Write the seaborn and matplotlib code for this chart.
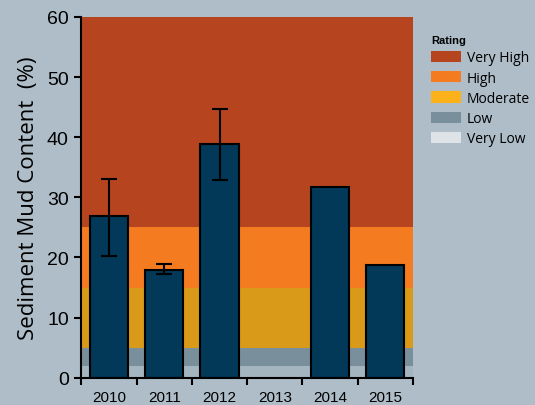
import numpy as np
import pandas as pd
import matplotlib.pyplot as plt
import seaborn as sns
from matplotlib.patches import Patch

# Datos
years = ['2010', '2011', '2012', '2013', '2014', '2015']
mud = [26.9, 18.0, 38.9, np.nan, 31.8, 18.7]
err_low = [20.3, 17.2, 32.9, np.nan, np.nan, np.nan]
err_high = [33.1, 18.9, 44.7, np.nan, np.nan, np.nan]

rating_names = ['Very High', 'High', 'Moderate', 'Low', 'Very Low']
rating_from = [25, 15, 5, 2, 0]
rating_to = [60, 25, 15, 5, 2]
band_colors = ['#b5441f', '#f47b20', '#d89a18', '#7a8f9c', '#a4b5c0']
legend_colors = ['#b5441f', '#f47b20', '#fbb21a', '#7a8f9c', '#dde3e6']

bg = '#aebdc8'
sns.set_style('ticks')
plt.rcParams['font.family'] = ['Liberation Sans', 'DejaVu Sans']
plt.rcParams['text.color'] = 'black'
plt.rcParams['xtick.color'] = 'black'
plt.rcParams['ytick.color'] = 'black'
plt.rcParams['axes.labelcolor'] = 'black'

df = pd.DataFrame({'year': years, 'mud': mud})

fig, ax = plt.subplots(figsize=(5.35, 4.06), dpi=100)
fig.patch.set_facecolor(bg)
ax.set_facecolor(bg)
fig.subplots_adjust(left=0.152, right=0.772, top=0.956, bottom=0.067)

# Bandas de calificación
for lo, hi, c in zip(rating_from, rating_to, band_colors):
    ax.axhspan(lo, hi, color=c, lw=0, zorder=0)

sns.barplot(data=df, x='year', y='mud', color='#023858', width=0.69,
            edgecolor='black', linewidth=1.5, saturation=1, ax=ax, zorder=2)

# Barras de error
x = np.arange(len(years))
m = np.array(mud)
lo_err = m - np.array(err_low)
hi_err = np.array(err_high) - m
ok = ~np.isnan(lo_err)
ax.errorbar(x[ok], m[ok], yerr=[lo_err[ok], hi_err[ok]], fmt='none',
            ecolor='black', elinewidth=1.5, capsize=6, capthick=1.5, zorder=3)

ax.set_xlim(-0.5, 5.5)
ax.set_ylim(0, 60)
ax.set_yticks([0, 10, 20, 30, 40, 50, 60])
ax.tick_params(axis='y', labelsize=14, width=1.5, length=5, pad=4)
ax.set_xticks(np.arange(-0.5, 6, 1))
ax.set_xticklabels([])
ax.set_xticks(x, minor=True)
ax.set_xticklabels(years, minor=True)
ax.tick_params(axis='x', which='major', width=1.5, length=5)
ax.tick_params(axis='x', which='minor', length=0, labelsize=11, pad=9)
ax.set_xlabel('')
ax.set_ylabel('Sediment Mud Content  (%)', fontsize=16, labelpad=6,
              family=['Open Sans', 'DejaVu Sans'])
sns.despine(ax=ax)
for s in ['left', 'bottom']:
    ax.spines[s].set_linewidth(1.5)
    ax.spines[s].set_color('black')

handles = [Patch(facecolor=c, edgecolor='none') for c in legend_colors]
leg = fig.legend(handles, rating_names, title='Rating', loc='upper left',
                 bbox_to_anchor=(0.795, 0.925), frameon=False,
                 prop={'family': ['Open Sans', 'DejaVu Sans'], 'size': 10},
                 handlelength=2.2, handleheight=0.85, labelspacing=0.38,
                 handletextpad=0.4, borderaxespad=0)
leg.get_title().set_fontweight('bold')
leg.get_title().set_fontsize(8)
leg._legend_box.align = 'left'

plt.savefig('out.png', dpi=100, facecolor=bg)
plt.close()
